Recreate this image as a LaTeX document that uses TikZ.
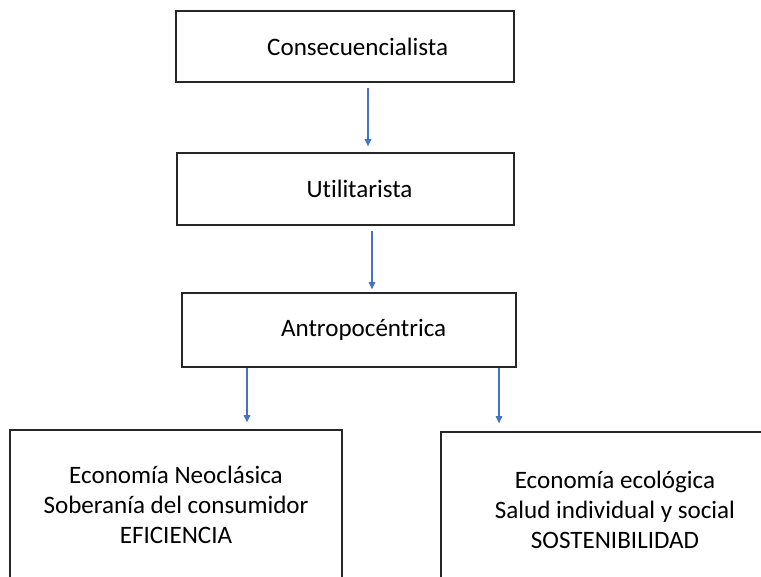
\documentclass[tikz,border=0pt]{standalone}
\usepackage{fontspec}
\setmainfont{Carlito}[Ligatures={NoCommon}]
\usetikzlibrary{positioning, arrows.meta, calc}

\definecolor{officeblue}{RGB}{68,114,196}

\begin{document}
\begin{tikzpicture}[
    x=0.75pt, y=-0.75pt,
    box/.style={
      draw=black!85, line width=1pt, align=center,
      font=\fontsize{18.8}{22.5}\selectfont, inner sep=0pt
    },
    textright/.style={execute at begin node={\hspace*{#1}}},
    arr/.style={-{Triangle[length=5.5pt, width=5pt]}, line width=0.8pt, officeblue}
  ]
    % Frame of the page
    \useasboundingbox (0,0) rectangle (761,576);
    \clip (0,0) rectangle (761,576);

    % Boxes (top to bottom)
    \node[box, textright=19pt, minimum width=253.5pt, minimum height=53.25pt] (cons) at (345, 46.5) {Consecuencialista};
    \node[box, textright=21pt, minimum width=252.75pt, minimum height=54pt]   (util) at (345.5, 189) {Utilitarista};
    \node[box, textright=22pt, minimum width=250.5pt, minimum height=55.5pt]  (antr) at (349, 330)   {Antropocéntrica};

    % Bottom boxes (cut by the page edge)
    \node[box, minimum width=249pt, minimum height=112.5pt] (neo) at (176, 505)
      {Economía Neoclásica\\Soberanía del consumidor\\EFICIENCIA};
    \node[box, minimum width=261pt, minimum height=117pt]   (eco) at (615, 510)
      {Economía ecológica\\Salud individual y social\\SOSTENIBILIDAD};

    % Arrows between boxes
    \draw[arr] ($(cons.south -| 368,0)+(0,5)$) -- ($(util.north -| 368,0)+(0,-6)$);
    \draw[arr] ($(util.south -| 372,0)+(0,5)$) -- ($(antr.north -| 372,0)+(0,-3)$);
    \draw[arr] (antr.south -| 247,0) -- ($(neo.north -| 247,0)+(0,-7)$);
    \draw[arr] (antr.south -| 499,0) -- ($(eco.north -| 499,0)+(0,-8)$);
  \end{tikzpicture}
\end{document}
